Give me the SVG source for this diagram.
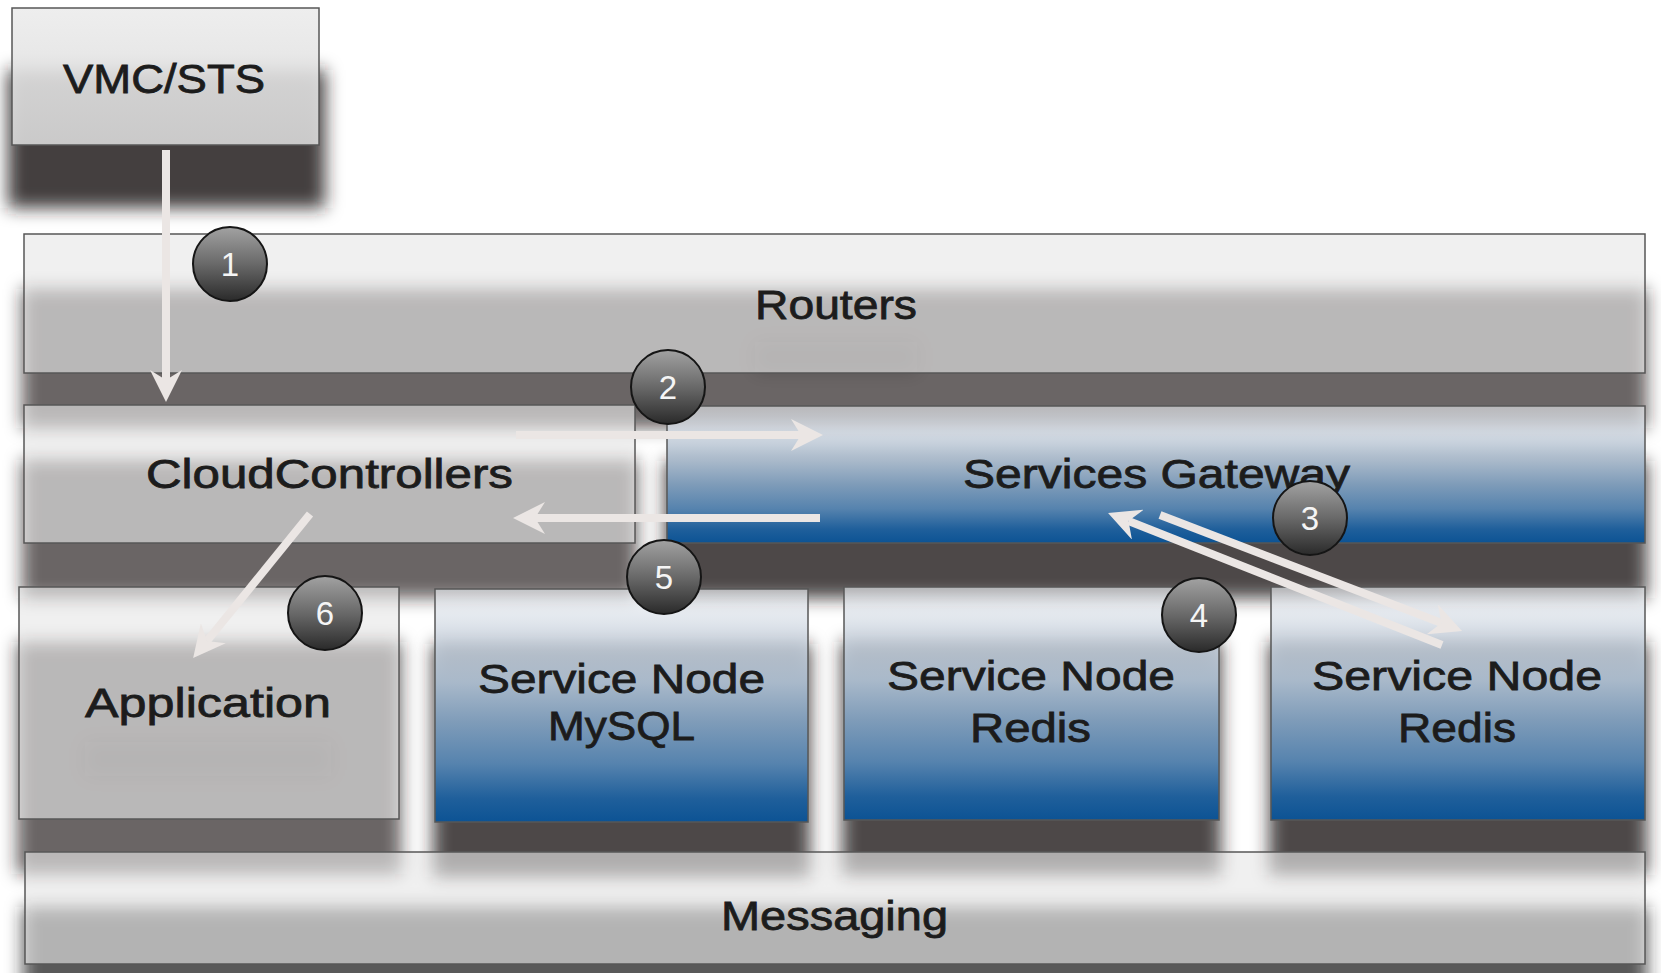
<svg xmlns="http://www.w3.org/2000/svg" width="1661" height="973" viewBox="0 0 1661 973">
  <defs>
    <style>
      .shadow { fill: #231f1f; filter: url(#blur); }
      .tblob { fill: #231f1f; filter: url(#blur2); }
      .box-gray { fill: #e7e7e7; fill-opacity: 0.635; stroke: #575757; stroke-width: 1.5; }
      .box-vmc { fill: url(#vmcGrad); stroke: #575757; stroke-width: 1.5; }
      .box-blue { fill: url(#blueGrad); stroke: #575757; stroke-width: 1.5; }
      .lbl { font-family: "Liberation Sans", Arial, sans-serif; font-size: 41px; fill: #1c1c1c; stroke: #1c1c1c; stroke-width: 0.8; text-anchor: middle; }
      .num { font-family: "Liberation Sans", Arial, sans-serif; font-size: 33px; fill: #f5f5f5; text-anchor: middle; }
      .badge { fill: url(#badgeGrad); stroke: #151515; stroke-width: 2; }
      .conn { stroke: #ebe6e4; stroke-width: 8; fill: none; marker-end: url(#arr); }
    </style>
    <filter id="blur" x="-10%" y="-40%" width="120%" height="180%">
      <feGaussianBlur stdDeviation="8.5"/>
    </filter>
    <filter id="blur2" x="-30%" y="-80%" width="160%" height="260%">
      <feGaussianBlur stdDeviation="9"/>
    </filter>
    <linearGradient id="vmcGrad" x1="0" y1="0" x2="0" y2="1">
      <stop offset="0" stop-color="#ececec" stop-opacity="0.9"/>
      <stop offset="1" stop-color="#d9d9d9" stop-opacity="0.9"/>
    </linearGradient>
    <linearGradient id="blueGrad" x1="0" y1="0" x2="0" y2="1">
      <stop offset="0" stop-color="#eef1f5" stop-opacity="0.6"/>
      <stop offset="0.18" stop-color="#d0d8e2" stop-opacity="0.8"/>
      <stop offset="0.4" stop-color="#a9b9ca" stop-opacity="1"/>
      <stop offset="0.57" stop-color="#7f9cb9" stop-opacity="1"/>
      <stop offset="0.75" stop-color="#5683ae" stop-opacity="1"/>
      <stop offset="0.9" stop-color="#1f5f9b" stop-opacity="1"/>
      <stop offset="1" stop-color="#0c5394" stop-opacity="1"/>
    </linearGradient>
    <linearGradient id="badgeGrad" x1="0" y1="0" x2="0" y2="1">
      <stop offset="0" stop-color="#a2a2a2"/>
      <stop offset="0.5" stop-color="#696969"/>
      <stop offset="1" stop-color="#2a2a2a"/>
    </linearGradient>
    <marker id="arr" markerUnits="userSpaceOnUse" markerWidth="32" markerHeight="32" refX="10" refY="16" orient="auto" viewBox="0 0 32 32">
      <path d="M0,0 L32,16 L0,32 L10,16 Z" fill="#ebe6e4"/>
    </marker>
  </defs>

  <rect x="0" y="0" width="1661" height="973" fill="#ffffff"/>

  <g id="shadows">
    <rect class="shadow" x="8" y="70" width="317" height="138" fill-opacity="0.86"/>
    <rect class="shadow" x="22" y="289" width="1625" height="139" fill-opacity="0.68"/>
    <rect class="shadow" x="22" y="460" width="615" height="138" fill-opacity="0.68"/>
    <rect class="shadow" x="665" y="461" width="982" height="137" fill-opacity="0.82"/>
    <rect class="shadow" x="17" y="642" width="384" height="232" fill-opacity="0.68"/>
    <rect class="shadow" x="433" y="644" width="377" height="233" fill-opacity="0.82"/>
    <rect class="shadow" x="842" y="642" width="379" height="233" fill-opacity="0.82"/>
    <rect class="shadow" x="1269" y="642" width="378" height="233" fill-opacity="0.82"/>
    <rect class="shadow" x="23" y="907" width="1624" height="112" fill-opacity="0.75"/>
    <rect class="tblob" x="755" y="342" width="162" height="30" fill-opacity="0.18"/>
    <rect class="tblob" x="85" y="742" width="246" height="34" fill-opacity="0.18"/>
  </g>

  <g id="vmc-sts">
    <rect class="box-vmc" x="12" y="8" width="307" height="137"/>
    <text class="lbl" x="164" y="93" textLength="202" lengthAdjust="spacingAndGlyphs">VMC/STS</text>
  </g>

  <g id="routers">
    <rect class="box-gray" x="24" y="234" width="1621" height="139"/>
    <text class="lbl" x="836" y="319" textLength="162" lengthAdjust="spacingAndGlyphs">Routers</text>
  </g>

  <g id="cloud-controllers">
    <rect class="box-gray" x="24" y="405" width="611" height="138"/>
    <text class="lbl" x="329.5" y="488" textLength="367" lengthAdjust="spacingAndGlyphs">CloudControllers</text>
  </g>

  <g id="services-gateway">
    <rect class="box-blue" x="667" y="406" width="978" height="137"/>
    <text class="lbl" x="1156.5" y="488" textLength="387" lengthAdjust="spacingAndGlyphs">Services Gateway</text>
  </g>

  <g id="application">
    <rect class="box-gray" x="19" y="587" width="380" height="232"/>
    <text class="lbl" x="208" y="717" textLength="246" lengthAdjust="spacingAndGlyphs">Application</text>
  </g>

  <g id="service-node-mysql">
    <rect class="box-blue" x="435" y="589" width="373" height="233"/>
    <text class="lbl" x="621.5" y="693" textLength="287" lengthAdjust="spacingAndGlyphs">Service Node</text>
    <text class="lbl" x="621.5" y="740" textLength="147" lengthAdjust="spacingAndGlyphs">MySQL</text>
  </g>

  <g id="service-node-redis-1">
    <rect class="box-blue" x="844" y="587" width="375" height="233"/>
    <text class="lbl" x="1031" y="690" textLength="288" lengthAdjust="spacingAndGlyphs">Service Node</text>
    <text class="lbl" x="1030.5" y="742" textLength="121" lengthAdjust="spacingAndGlyphs">Redis</text>
  </g>

  <g id="service-node-redis-2">
    <rect class="box-blue" x="1271" y="587" width="374" height="233"/>
    <text class="lbl" x="1457" y="690" textLength="290" lengthAdjust="spacingAndGlyphs">Service Node</text>
    <text class="lbl" x="1457" y="742" textLength="118" lengthAdjust="spacingAndGlyphs">Redis</text>
  </g>

  <g id="messaging">
    <rect class="box-gray" x="25" y="852" width="1620" height="112"/>
    <text class="lbl" x="834.5" y="930" textLength="227" lengthAdjust="spacingAndGlyphs">Messaging</text>
  </g>

  <g id="connectors">
    <line class="conn" x1="166" y1="150" x2="166" y2="380"/>
    <line class="conn" x1="516" y1="435" x2="801" y2="435"/>
    <line class="conn" x1="820" y1="518" x2="535" y2="518"/>
    <line class="conn" x1="310" y1="514" x2="207" y2="641"/>
    <line class="conn" x1="1442" y1="645" x2="1128.5" y2="521"/>
    <line class="conn" x1="1160" y1="515" x2="1441.5" y2="623"/>
  </g>

  <g id="badge-1">
    <circle class="badge" cx="230" cy="264" r="37"/>
    <text class="num" x="230" y="276">1</text>
  </g>
  <g id="badge-2">
    <circle class="badge" cx="668" cy="387" r="37"/>
    <text class="num" x="668" y="399">2</text>
  </g>
  <g id="badge-3">
    <circle class="badge" cx="1310" cy="518" r="37"/>
    <text class="num" x="1310" y="530">3</text>
  </g>
  <g id="badge-4">
    <circle class="badge" cx="1199" cy="615" r="37"/>
    <text class="num" x="1199" y="627">4</text>
  </g>
  <g id="badge-5">
    <circle class="badge" cx="664" cy="577" r="37"/>
    <text class="num" x="664" y="589">5</text>
  </g>
  <g id="badge-6">
    <circle class="badge" cx="325" cy="613" r="37"/>
    <text class="num" x="325" y="625">6</text>
  </g>
</svg>
